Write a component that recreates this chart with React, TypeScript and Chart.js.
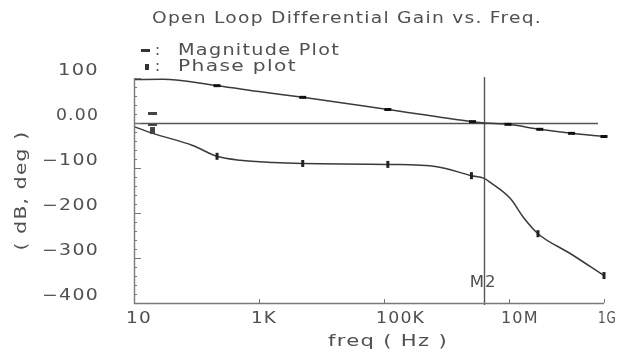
import React, { useEffect, useRef } from "react";
import { Chart, registerables } from "chart.js";

Chart.register(...registerables);

const TITLE = "Open Loop Differential Gain vs. Freq.";
const LEGEND_LABELS = ["Magnitude Plot", "Phase plot"];
const X_TITLE = "freq ( Hz )";
const Y_TITLE = "( dB, deg )";
const MARKER_LABEL = "M2";
const M2_FREQ = 4e6;

const magFreq = [10, 29, 213, 1000, 5000, 1.15e5, 2.6e6, 4e6, 9.6e6, 3.1e7, 1e8, 3.3e8];
const magDb = [96.7, 97, 83, 70, 57, 30, 3, 0, -3, -14, -23, -30];
const magMarkers = [2, 4, 5, 6, 8, 9, 10, 11];

const phaseFreq = [10, 20, 87, 213, 500, 1700, 5000, 1.15e5, 7e5, 2.5e6, 4e6, 5e6, 1.05e7, 1.7e7, 2.9e7, 9.5e7, 3.3e8];
const phaseDeg = [-8, -23, -50, -74, -83, -88, -90, -92, -97, -117, -123, -132, -168, -210, -246, -290, -339];
const phaseMarkers = [3, 6, 7, 9, 14, 16];

const xTickValues = [10, 1e3, 1e5, 1e7, 3.3e8];
const xTickLabels = ["10", "1K", "100K", "10M", "1G"];
const yTickValues = [100, 0, -100, -200, -300, -400];
const yTickLabels = ["100", "0.00", "\u2212100", "\u2212200", "\u2212300", "\u2212400"];

const TEXT = "#505050";
const FONT = "'DejaVu Sans', sans-serif";

function wideText(ctx: CanvasRenderingContext2D, text: string, x: number, y: number, width: number, align: "left" | "center" | "right") {
  (ctx as any).letterSpacing = "1px";
  const w = ctx.measureText(text).width;
  const s = Math.min(1.5, Math.max(0.8, width / w));
  ctx.textAlign = "left";
  const sx = align === "center" ? x - width / 2 : align === "right" ? x - width : x;
  ctx.save();
  ctx.translate(sx, y);
  ctx.scale(s, 1);
  ctx.fillText(text, 0, 0);
  ctx.restore();
  (ctx as any).letterSpacing = "0px";
}

const decorPlugin = {
  id: "decor",
  beforeDatasetsDraw(chart: any) {
    const { ctx, chartArea: a, scales } = chart;
    const xs = scales.x, ys = scales.y;
    ctx.save();
    ctx.strokeStyle = "#555";
    ctx.lineWidth = 1.4;
    const y0 = Math.round(ys.getPixelForValue(0)) + 0.5;
    ctx.beginPath();
    ctx.moveTo(a.left, y0);
    ctx.lineTo(a.right - 6, y0);
    ctx.stroke();
    const xm = Math.round(xs.getPixelForValue(M2_FREQ)) + 0.5;
    ctx.beginPath();
    ctx.moveTo(xm, a.top - 1);
    ctx.lineTo(xm, a.bottom + 2);
    ctx.stroke();
    ctx.restore();
  },
  afterDraw(chart: any) {
    const { ctx, chartArea: a, scales } = chart;
    const xs = scales.x, ys = scales.y;
    ctx.save();
    // axes
    ctx.strokeStyle = "#7a7a7a";
    ctx.lineWidth = 1.4;
    ctx.beginPath();
    ctx.moveTo(a.left + 0.5, a.top);
    ctx.lineTo(a.left + 0.5, a.bottom + 0.5);
    ctx.lineTo(a.right, a.bottom + 0.5);
    ctx.stroke();
    // y ticks (inside)
    ctx.lineWidth = 1;
    ctx.strokeStyle = "#777";
    for (let v = -400; v <= 100; v += 20) {
      const py = Math.round(ys.getPixelForValue(v)) + 0.5;
      const len = v % 100 === 0 ? 7 : 3;
      ctx.beginPath();
      ctx.moveTo(a.left, py);
      ctx.lineTo(a.left + len, py);
      ctx.stroke();
    }
    // x ticks
    xTickValues.forEach((v) => {
      const px = Math.round(xs.getPixelForValue(v)) + 0.5;
      ctx.beginPath();
      ctx.moveTo(px, a.bottom);
      ctx.lineTo(px, a.bottom - 4);
      ctx.stroke();
    });

    ctx.fillStyle = TEXT;
    ctx.textBaseline = "middle";
    // y tick labels
    ctx.font = `15px ${FONT}`;
    yTickValues.forEach((v, i) => {
      const py = ys.getPixelForValue(v) - 7;
      const lbl = yTickLabels[i];
      const w = lbl.length === 4 ? (lbl.includes(".") ? 43 : 57) : 41;
      wideText(ctx, lbl, 99, py, w, "right");
    });
    // x tick labels
    xTickValues.forEach((v, i) => {
      const px = xs.getPixelForValue(v);
      const lbl = xTickLabels[i];
      const w = lbl.length * 11.5 + 3;
      wideText(ctx, lbl, i === xTickValues.length - 1 ? px - 6 : px - 8, a.bottom + 16, i === xTickValues.length - 1 ? 17 : w, "left");
    });
    // axis titles
    ctx.font = `16px ${FONT}`;
    wideText(ctx, X_TITLE, 388, 342, 120, "center");
    ctx.save();
    ctx.translate(22, (a.top + a.bottom) / 2);
    ctx.rotate(-Math.PI / 2);
    wideText(ctx, Y_TITLE, 0, 0, 120, "center");
    ctx.restore();
    // title
    ctx.font = `15px ${FONT}`;
    wideText(ctx, TITLE, 347, 19, 390, "center");
    // legend
    wideText(ctx, LEGEND_LABELS[0], 178, 51, 162, "left");
    wideText(ctx, LEGEND_LABELS[1], 178, 67, 119, "left");
    ctx.fillText(":", 155, 51);
    ctx.fillText(":", 155, 67);
    ctx.fillStyle = "#333";
    ctx.fillRect(141, 49, 9, 3);
    ctx.fillRect(145, 64, 4, 6);
    // curve identifiers near start
    ctx.fillStyle = "#444";
    ctx.fillRect(148, 112, 9, 3);
    ctx.fillRect(148, 124, 9, 2);
    ctx.fillRect(150, 127, 5, 7);
    // M2 label
    ctx.fillStyle = TEXT;
    ctx.font = `15px ${FONT}`;
    wideText(ctx, MARKER_LABEL, xs.getPixelForValue(M2_FREQ) - 1, 283, 27, "center");
    ctx.restore();
  },
};

export default function App() {
  const ref = useRef<HTMLCanvasElement | null>(null);
  useEffect(() => {
    document.body.style.margin = "0";
    const canvas = ref.current!;
    const chart = new Chart(canvas, {
      type: "line",
      data: {
        datasets: [
          {
            label: LEGEND_LABELS[0],
            data: magFreq.map((f, i) => ({ x: f, y: magDb[i] })),
            borderColor: "#3a3a3a",
            borderWidth: 1.5,
            pointStyle: "line",
            pointRadius: (c: any) => (magMarkers.includes(c.dataIndex) ? 3.5 : 0),
            pointBorderWidth: 3,
            pointBorderColor: "#111",
            pointBackgroundColor: "#111",
            cubicInterpolationMode: "monotone",
            clip: 10,
          } as any,
          {
            label: LEGEND_LABELS[1],
            data: phaseFreq.map((f, i) => ({ x: f, y: phaseDeg[i] })),
            borderColor: "#3a3a3a",
            borderWidth: 1.5,
            pointStyle: "line",
            pointRotation: 90,
            pointRadius: (c: any) => (phaseMarkers.includes(c.dataIndex) ? 3.5 : 0),
            pointBorderWidth: 3,
            pointBorderColor: "#222",
            pointBackgroundColor: "#222",
            cubicInterpolationMode: "monotone",
            clip: 10,
          } as any,
        ],
      },
      options: {
        animation: false,
        responsive: false,
        events: [],
        layout: { padding: { left: 0, right: 14, top: 78, bottom: 0 } },
        plugins: {
          legend: { display: false },
          title: { display: false },
          tooltip: { enabled: false },
        },
        scales: {
          x: {
            type: "logarithmic",
            min: 10,
            max: 3.3e8,
            ticks: { display: false },
            grid: { display: false },
            border: { display: false },
            afterBuildTicks: (s: any) => {
              s.ticks = xTickValues.map((v) => ({ value: v }));
            },
            afterFit: (s: any) => {
              s.height = 55;
            },
          },
          y: {
            type: "linear",
            min: -400,
            max: 100,
            ticks: { display: false },
            grid: { display: false },
            border: { display: false },
            afterBuildTicks: (s: any) => {
              s.ticks = yTickValues.map((v) => ({ value: v }));
            },
            afterFit: (s: any) => {
              s.width = 134;
            },
          },
        },
      } as any,
      plugins: [decorPlugin],
    });
    return () => chart.destroy();
  }, []);
  return (
    <div style={{ width: 618, height: 358, background: "#fff" }}>
      <canvas ref={ref} width={618} height={358} style={{ display: "block" }} />
    </div>
  );
}
